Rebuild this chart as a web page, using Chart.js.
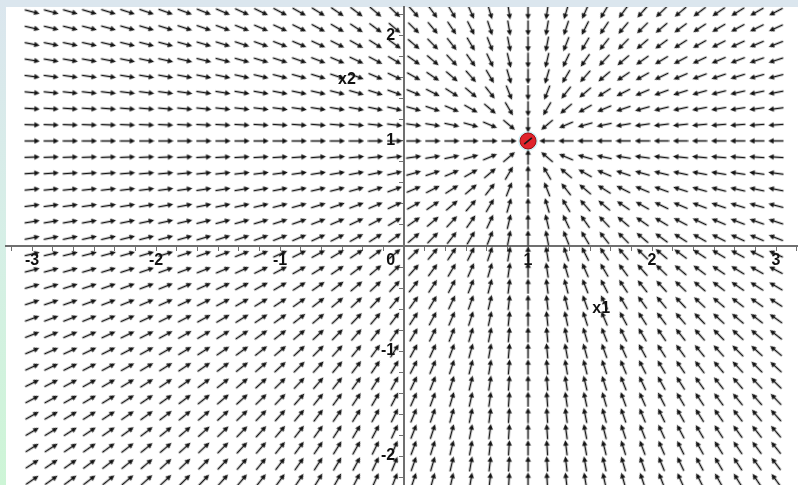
<!DOCTYPE html>
<html>
<head>
<meta charset="utf-8">
<script src="https://cdn.jsdelivr.net/npm/chart.js@4.4.1/dist/chart.umd.min.js"></script>
<style>
  html, body { margin: 0; padding: 0; background: #ffffff; }
  canvas { display: block; }
</style>
</head>
<body>
<canvas id="field" width="798" height="485"></canvas>
<script>
// Sample grid of the direction field (x1 columns, x2 rows)
const xColumns = [
  -3.0000, -2.8462, -2.6923, -2.5385, -2.3846, -2.2308, -2.0769, -1.9231, -1.7692, -1.6154,
  -1.4615, -1.3077, -1.1538, -1.0000, -0.8462, -0.6923, -0.5385, -0.3846, -0.2308, -0.0769,
   0.0769,  0.2308,  0.3846,  0.5385,  0.6923,  0.8462,  1.0000,  1.1538,  1.3077,  1.4615,
   1.6154,  1.7692,  1.9231,  2.0769,  2.2308,  2.3846,  2.5385,  2.6923,  2.8462,  3.0000
];
const yRows = [
   2.2308,  2.0769,  1.9231,  1.7692,  1.6154,  1.4615,  1.3077,  1.1538,  1.0000,  0.8462,
   0.6923,  0.5385,  0.3846,  0.2308,  0.0769, -0.0769, -0.2308, -0.3846, -0.5385, -0.6923,
  -0.8462, -1.0000, -1.1538, -1.3077, -1.4615, -1.6154, -1.7692, -1.9231, -2.0769, -2.2308
];

// Stable node: every trajectory heads to this equilibrium
const equilibrium = { x: 1, y: 1 };

// Axis extents and labelled ticks
const xRange = [-3.21, 3.177];
const yRange = [-2.276, 2.276];
const xLabelValues = [-3, -2, -1, 0, 1, 2, 3];
const yLabelValues = [-2, -1, 1, 2];
const xMinorStep = 1 / 6;
const yMinorStep = 0.2;

// Axis names written inside the plane
const axisNames = [
  { text: 'x1', x: 1.59, y: -0.60 },
  { text: 'x2', x: -0.46, y: 1.58 }
];

// ---- arrow glyph used as the point style ----
function makeArrowGlyph() {
  const c = document.createElement('canvas');
  c.width = 16; c.height = 7;
  const g = c.getContext('2d');
  g.strokeStyle = '#141414';
  g.fillStyle = '#141414';
  g.lineWidth = 1.5;
  g.beginPath(); g.moveTo(0.5, 3.5); g.lineTo(12, 3.5); g.stroke();
  g.beginPath(); g.moveTo(15.8, 3.5); g.lineTo(10.4, 0.8); g.lineTo(10.4, 6.2); g.closePath(); g.fill();
  return c;
}
const arrowGlyph = makeArrowGlyph();

const gridPoints = [];
for (const y of yRows) {
  for (const x of xColumns) {
    if (x === equilibrium.x && y === equilibrium.y) continue;
    gridPoints.push({ x, y });
  }
}

// Direction of the field at a point, expressed as a screen angle in degrees
function fieldAngle(ctx) {
  const p = ctx.raw;
  if (!p) return 0;
  const sx = ctx.chart.scales.x, sy = ctx.chart.scales.y;
  const px0 = sx.getPixelForValue(p.x), py0 = sy.getPixelForValue(p.y);
  const px1 = sx.getPixelForValue(p.x + (equilibrium.x - p.x) * 0.01);
  const py1 = sy.getPixelForValue(p.y + (equilibrium.y - p.y) * 0.01);
  return Math.atan2(py1 - py0, px1 - px0) * 180 / Math.PI;
}

function isNear(v, t) { return Math.abs(v - t) < 1e-6; }

function tickList(lo, hi, step) {
  const out = [];
  const start = Math.ceil(lo / step - 1e-9);
  const end = Math.floor(hi / step + 1e-9);
  for (let k = start; k <= end; k++) out.push({ value: k * step });
  return out;
}

const frame = {
  id: 'frame',
  beforeDraw(chart) {
    const { ctx, width, height } = chart;
    ctx.save();
    ctx.fillStyle = '#ffffff';
    ctx.fillRect(0, 0, width, height);
    ctx.fillStyle = '#dbe6ee';
    ctx.fillRect(0, 0, width, 7);
    const grad = ctx.createLinearGradient(0, 0, 0, height);
    grad.addColorStop(0, '#dbe6ee');
    grad.addColorStop(0.5, '#d6efe6');
    grad.addColorStop(1, '#cdf5d6');
    ctx.fillStyle = grad;
    ctx.fillRect(0, 0, 6, height);
    ctx.restore();
  }
};

const axisNamePlugin = {
  id: 'axisNames',
  afterDatasetsDraw(chart) {
    const { ctx } = chart;
    const sx = chart.scales.x, sy = chart.scales.y;
    ctx.save();
    ctx.font = 'bold 16px "Liberation Sans", Arial, sans-serif';
    ctx.fillStyle = '#111111';
    ctx.textAlign = 'center';
    ctx.textBaseline = 'middle';
    for (const n of axisNames) {
      ctx.fillText(n.text, sx.getPixelForValue(n.x), sy.getPixelForValue(n.y));
    }
    ctx.restore();
  }
};

const labelFont = { family: '"Liberation Sans", Arial, sans-serif', size: 16, weight: 'bold' };

new Chart(document.getElementById('field'), {
  type: 'scatter',
  data: {
    datasets: [
      {
        label: 'slash',
        data: [equilibrium],
        pointStyle: 'line',
        pointRadius: 5,
        rotation: -40,
        borderColor: '#1a1a1a',
        borderWidth: 1.6,
        order: 0
      },
      {
        label: 'equilibrium',
        data: [equilibrium],
        pointStyle: 'circle',
        pointRadius: 8,
        backgroundColor: '#e0242c',
        borderColor: '#9a1014',
        borderWidth: 1,
        order: 1
      },
      {
        label: 'halo',
        data: [equilibrium],
        pointStyle: 'circle',
        pointRadius: 10,
        backgroundColor: 'rgba(150,225,235,0.45)',
        borderWidth: 0,
        order: 2
      },
      {
        label: 'field',
        data: gridPoints,
        pointStyle: arrowGlyph,
        pointRadius: 3,
        rotation: fieldAngle,
        order: 3
      }
    ]
  },
  options: {
    responsive: false,
    animation: false,
    events: [],
    layout: { autoPadding: false, padding: { left: 6, top: 7, right: 0, bottom: 0 } },
    plugins: { legend: { display: false }, tooltip: { enabled: false } },
    scales: {
      x: {
        type: 'linear',
        min: xRange[0],
        max: xRange[1],
        position: { y: 0 },
        afterBuildTicks(scale) { scale.ticks = tickList(xRange[0], xRange[1], xMinorStep); },
        afterFit(scale) { scale.paddingLeft = 0; scale.paddingRight = 0; scale.paddingTop = 0; scale.paddingBottom = 0; },
        border: { display: true, color: '#6f6f6f', width: 2 },
        grid: { display: true, drawOnChartArea: false, drawTicks: true, tickLength: 4, color: '#6f6f6f', lineWidth: 1 },
        ticks: {
          autoSkip: false,
          maxRotation: 0,
          padding: 1,
          color: '#111111',
          font: labelFont,
          callback(value) {
            const hit = xLabelValues.find(v => isNear(value, v));
            if (hit === undefined) return '';
            return hit === 0 ? '0      ' : String(hit);
          }
        }
      },
      y: {
        type: 'linear',
        min: yRange[0],
        max: yRange[1],
        position: { x: 0 },
        afterBuildTicks(scale) { scale.ticks = tickList(yRange[0], yRange[1], yMinorStep); },
        afterFit(scale) { scale.paddingLeft = 0; scale.paddingRight = 0; scale.paddingTop = 0; scale.paddingBottom = 0; },
        border: { display: true, color: '#6f6f6f', width: 2 },
        grid: { display: true, drawOnChartArea: false, drawTicks: true, tickLength: 4, color: '#6f6f6f', lineWidth: 1 },
        ticks: {
          autoSkip: false,
          color: '#111111',
          font: labelFont,
          callback(value) {
            const hit = yLabelValues.find(v => isNear(value, v));
            // trailing gap keeps the right-aligned label clear of the axis line
            return hit === undefined ? '' : String(hit) + '  ';
          }
        }
      }
    }
  },
  plugins: [frame, axisNamePlugin]
});
</script>
</body>
</html>
